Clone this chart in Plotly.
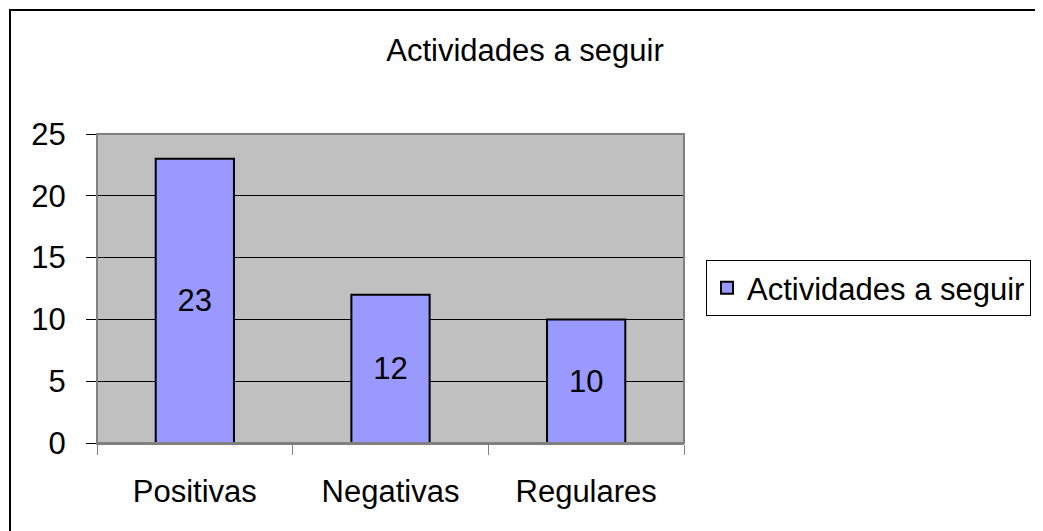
import plotly.graph_objects as go

categories = ["Positivas", "Negativas", "Regulares"]
values = [23, 12, 10]
series_name = "Actividades a seguir"
title_text = "Actividades a seguir"
y_ticks = [0, 5, 10, 15, 20, 25]

FONT = "Liberation Sans, Arial, sans-serif"
FS = 31
OFF = 8  # page body margin
W, H = 1043, 531
# target window-pixel positions of the plot area
L, R, T, B = 97 - OFF, 684 - OFF, 134 - OFF, 443 - OFF

fig = go.Figure()
fig.add_trace(go.Bar(
    x=categories, y=values, name=series_name,
    marker=dict(color="#9999FF", line=dict(color="black", width=2)),
    width=0.4,
    text=[str(v) for v in values],
    textposition="inside", insidetextanchor="middle",
    textfont=dict(family=FONT, size=FS, color="black"),
    showlegend=True,
))

pw = R - L
ph = B - T
def px_x(p):
    return (p - OFF - L) / pw
def px_y(p):
    return (B - (p - OFF)) / ph

fig.update_layout(
    width=W, height=H,
    margin=dict(l=L, r=W - R, t=T, b=H - B, pad=0),
    paper_bgcolor="white",
    plot_bgcolor="#C0C0C0",
    font=dict(family=FONT, size=FS, color="black"),
    title=dict(text=title_text, x=(525 - OFF) / W, xanchor="center",
               y=1 - (50 - OFF) / H, yanchor="middle",
               font=dict(family=FONT, size=FS, color="black")),
    showlegend=True,
    legend=dict(x=px_x(706), xanchor="left", y=px_y(288), yanchor="middle",
                bgcolor="white", bordercolor="black", borderwidth=1,
                font=dict(family=FONT, size=FS, color="black"),
                itemsizing="constant", itemwidth=30),
    bargap=0.6,
    xaxis=dict(type="category", range=[-0.5, 2.5], tickson="boundaries",
               ticks="outside", ticklen=10, tickcolor="#808080", tickwidth=1,
               showline=True, linecolor="#808080", linewidth=2,
               showgrid=False, zeroline=False,
               tickfont=dict(family=FONT, size=FS, color="black"),
               ticklabelstandoff=20),
    yaxis=dict(range=[0, 25], tickvals=y_ticks, ticks="outside", ticklen=10,
               tickcolor="black", tickwidth=1,
               showline=True, linecolor="black", linewidth=1,
               showgrid=True, gridcolor="black", gridwidth=1,
               zeroline=False,
               tickfont=dict(family=FONT, size=FS, color="black"),
               ticklabelstandoff=14),
)

# plot-area border (gray)
fig.add_shape(type="rect", xref="paper", yref="paper", x0=0, y0=0, x1=1, y1=1,
              line=dict(color="#808080", width=2), layer="above")
# outer chart border
fig.add_shape(type="rect", xref="paper", yref="paper",
              x0=px_x(10), y0=px_y(10), x1=px_x(1070), y1=px_y(570),
              line=dict(color="black", width=2), layer="above")

fig.write_html("out.html")
